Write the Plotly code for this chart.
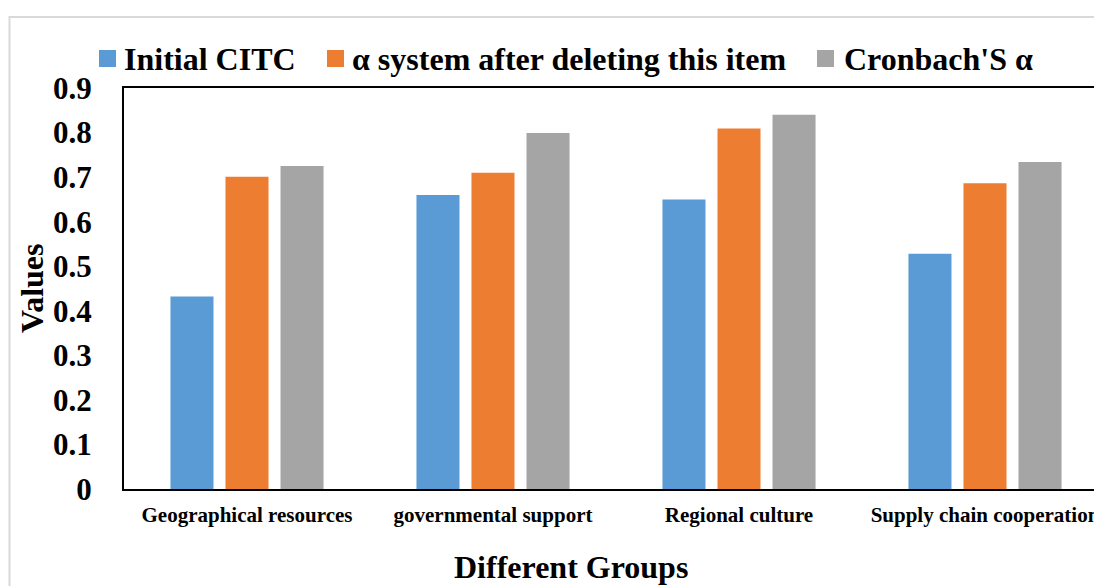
import plotly.graph_objects as go

# Reliability statistics per dimension
groups = ["Geographical resources", "governmental support", "Regional culture", "Supply chain cooperation"]
initial_citc = [0.432, 0.660, 0.650, 0.528]
alpha_if_deleted = [0.701, 0.710, 0.809, 0.686]
cronbach_alpha = [0.725, 0.799, 0.840, 0.734]

series_names = ["Initial CITC", "α system after deleting this item", "Cronbach'S α"]
series_colors = ["#5B9BD5", "#ED7D31", "#A5A5A5"]
y_ticks = [0, 0.1, 0.2, 0.3, 0.4, 0.5, 0.6, 0.7, 0.8, 0.9]
y_tick_text = ["0", "0.1", "0.2", "0.3", "0.4", "0.5", "0.6", "0.7", "0.8", "0.9"]

W, H = 1094, 586
ML, MR, MT, MB = 124, 0, 88, 97
PW, PH = W - ML - MR, H - MT - MB
FONT = "Liberation Serif, Times New Roman, serif"


def px(x):
    return (x - ML) / PW


def py(y):
    return (H - MB - y) / PH


def bold(s):
    return "<b>" + s + "</b>"


fig = go.Figure()
for name, vals, col in zip(series_names, [initial_citc, alpha_if_deleted, cronbach_alpha], series_colors):
    fig.add_trace(go.Bar(x=groups, y=vals, name=name, marker=dict(color=col, line=dict(width=0)),
                         showlegend=False))

# category slot is 246 px wide; the plot area runs past the right edge of the page
slot = 246.0
x_end = PW / slot - 0.5

shapes = [
    # outer chart frame (light grey)
    dict(type="rect", xref="paper", yref="paper", x0=px(9.5), x1=px(1200), y0=py(700), y1=py(17),
         line=dict(color="#D9D9D9", width=2), fillcolor="rgba(0,0,0,0)", layer="below"),
]

# legend: squares and labels
legend_items = [(99, 122), (327, 350), (817, 842)]
annotations = []
for (sx, tx), name, col in zip(legend_items, series_names, series_colors):
    shapes.append(dict(type="rect", xref="paper", yref="paper", x0=px(sx), x1=px(sx + 17),
                       y0=py(67), y1=py(50), fillcolor=col, line=dict(width=0)))
    annotations.append(dict(text=bold(name), xref="paper", yref="paper", x=px(tx), y=py(59),
                            xanchor="left", yanchor="middle", showarrow=False,
                            font=dict(family=FONT, size=32, color="black")))

annotations.append(dict(text=bold("Different Groups"), xref="paper", yref="paper", x=px(571), y=py(567),
                        xanchor="center", yanchor="middle", showarrow=False,
                        font=dict(family=FONT, size=32, color="black")))
annotations.append(dict(text=bold("Values"), xref="paper", yref="paper", x=px(32), y=py(288),
                        xanchor="center", yanchor="middle", showarrow=False, textangle=-90,
                        font=dict(family=FONT, size=32, color="black")))

fig.update_layout(
    width=W, height=H,
    margin=dict(l=ML, r=MR, t=MT, b=MB, autoexpand=False),
    paper_bgcolor="white", plot_bgcolor="white",
    barmode="group", bargap=0.329, bargroupgap=0.218,
    shapes=shapes, annotations=annotations,
    xaxis=dict(range=[-0.5, x_end], tickvals=groups, ticktext=[bold(g) for g in groups],
               showline=True, linecolor="black", linewidth=2, mirror=True,
               showgrid=False, ticks="", automargin=False, ticklabelstandoff=6,
               tickfont=dict(family=FONT, size=21, color="black")),
    yaxis=dict(range=[0, 0.9], tickvals=y_ticks, ticktext=[bold(t) for t in y_tick_text], showline=True,
               linecolor="black", linewidth=2, showgrid=False, zeroline=False, ticks="",
               automargin=False, ticklabelstandoff=24,
               tickfont=dict(family=FONT, size=31, color="black")),
)

fig.write_html("out.html")
